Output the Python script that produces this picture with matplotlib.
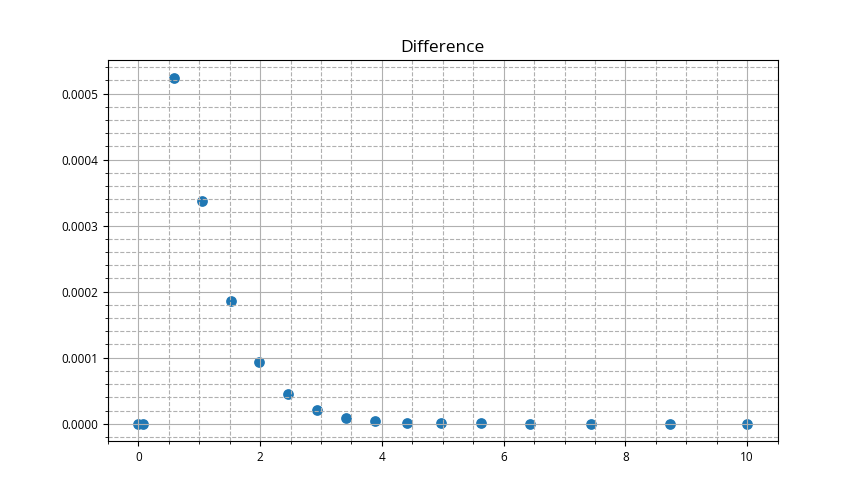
import matplotlib
matplotlib.use("Agg")
import matplotlib.pyplot as plt

plt.rcParams["font.family"] = ["Open Sans", "DejaVu Sans"]

x_vals = [0.0, 0.08, 0.59, 1.05, 1.52, 1.98, 2.46, 2.93, 3.41, 3.88, 4.41,
          4.97, 5.62, 6.43, 7.43, 8.74, 10.0]
diff_vals = [0.0, 0.0, 0.000524, 0.000338, 0.000186, 0.0000940, 0.0000455,
             0.0000212, 0.0000090, 0.0000045, 0.0000015, 0.0000010,
             0.0000008, 0.0, 0.0, 0.0, 0.0]

fig, ax = plt.subplots(figsize=(8.64, 5.04), dpi=100)
fig.subplots_adjust(left=0.125, right=0.9, top=0.88, bottom=0.125)
ax.scatter(x_vals, diff_vals, s=45, color="#1f77b4")
ax.set_title("Difference", fontsize=12.5)
ax.minorticks_on()
ax.grid(which="major", linestyle="-", color="#b0b0b0")
ax.grid(which="minor", linestyle="--", color="#b0b0b0")
ax.tick_params(axis="both", labelsize=8.5)

fig.savefig("out.png", dpi=100)
